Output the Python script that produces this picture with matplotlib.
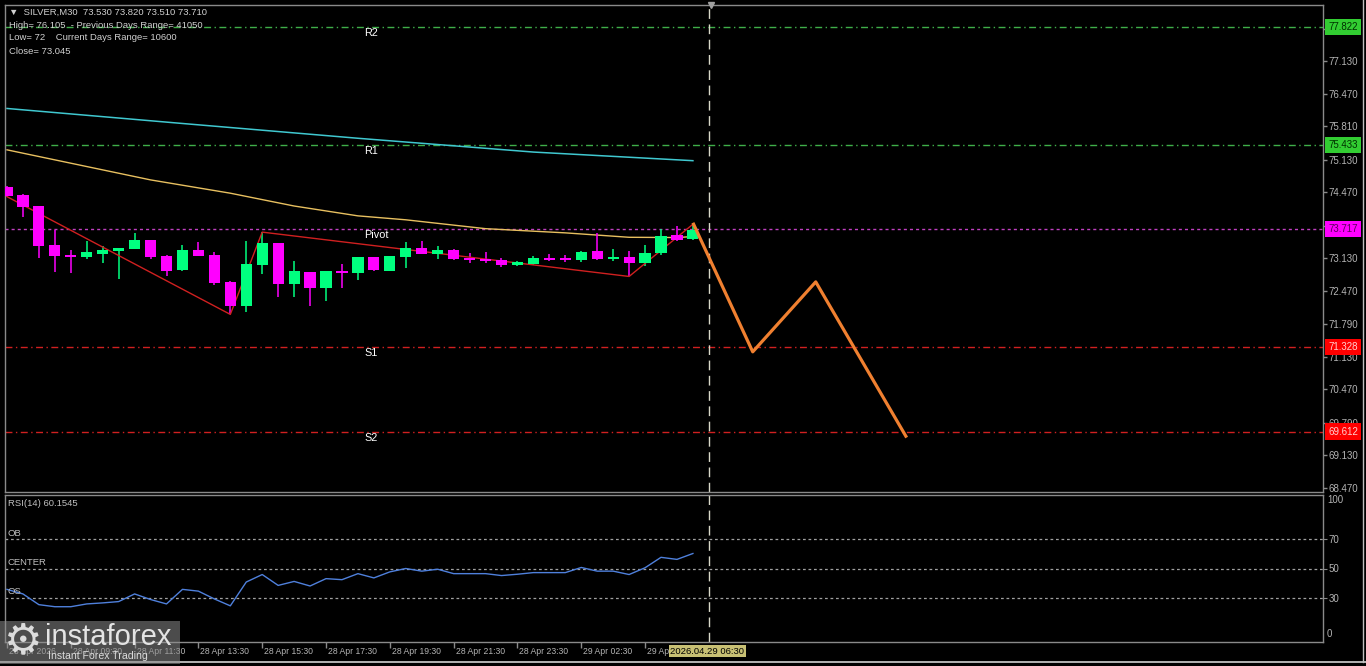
import matplotlib
matplotlib.use("Agg")
import matplotlib.pyplot as plt
import matplotlib.transforms as mtransforms
from matplotlib.patches import Rectangle
import numpy as np

# ---------------- data ----------------
opens  = [74.58, 74.41, 74.19, 73.40, 73.20, 73.15, 73.22, 73.28, 73.32, 73.50,
          73.18, 72.89, 73.30, 73.20, 72.65, 72.16, 73.00, 73.43, 72.61, 72.85,
          72.53, 72.88, 72.84, 73.15, 72.88, 73.16, 73.33, 73.22, 73.30, 73.13,
          73.11, 73.09, 73.00, 73.01, 73.13, 73.12, 73.09, 73.28, 73.12, 73.15,
          73.03, 73.23, 73.60, 73.53]
highs  = [74.60, 74.44, 74.20, 73.70, 73.30, 73.48, 73.38, 73.34, 73.65, 73.51,
          73.19, 73.40, 73.45, 73.26, 72.66, 73.47, 73.66, 73.44, 73.07, 72.86,
          72.88, 73.01, 73.16, 73.16, 73.18, 73.45, 73.47, 73.38, 73.31, 73.24,
          73.26, 73.14, 73.07, 73.17, 73.22, 73.19, 73.27, 73.64, 73.31, 73.28,
          73.40, 73.72, 73.78, 73.82]
lows   = [74.38, 73.96, 73.13, 72.86, 72.84, 73.12, 73.04, 72.70, 73.31, 73.11,
          72.77, 72.88, 73.17, 72.59, 71.99, 72.04, 72.81, 72.34, 72.35, 72.16,
          72.26, 72.53, 72.69, 72.88, 72.87, 72.93, 73.21, 73.11, 73.10, 73.04,
          73.04, 72.96, 72.97, 73.00, 73.08, 73.05, 73.05, 73.09, 73.07, 72.76,
          72.97, 73.20, 73.48, 73.51]
closes = [74.40, 74.17, 73.38, 73.18, 73.15, 73.25, 73.30, 73.33, 73.50, 73.16,
          72.88, 73.30, 73.18, 72.63, 72.16, 73.01, 73.43, 72.61, 72.87, 72.53,
          72.87, 72.84, 73.15, 72.89, 73.17, 73.33, 73.22, 73.30, 73.11, 73.09,
          73.08, 73.00, 73.05, 73.13, 73.10, 73.10, 73.26, 73.11, 73.15, 73.03,
          73.23, 73.58, 73.50, 73.71]

rsi_values = [35.8, 32.7, 25.4, 24.0, 24.0, 25.9, 26.6, 27.5, 32.7, 28.9,
              25.9, 35.8, 34.6, 29.3, 24.6, 40.8, 45.9, 38.5, 41.2, 38.1,
              43.1, 42.4, 46.5, 43.6, 47.7, 50.0, 48.2, 49.5, 46.5, 46.5,
              46.5, 45.2, 46.1, 47.2, 47.2, 47.2, 50.7, 48.2, 48.2, 45.9,
              50.5, 57.6, 56.2, 60.2]

ma_slow_idx = [0, 11, 22, 33, 43]
ma_slow_val = [76.17, 75.865, 75.565, 75.285, 75.11]
ma_fast_idx = [0, 9, 14, 18, 22, 25, 30, 35, 39, 42, 43]
ma_fast_val = [75.33, 74.72, 74.45, 74.19, 73.99, 73.91, 73.73, 73.645, 73.555, 73.55, 73.57]

zigzag_idx = [0, 14, 16, 39, 43]
zigzag_val = [74.38, 71.99, 73.66, 72.76, 73.82]

forecast_idx = [43, 46.75, 50.7, 56.4]
forecast_val = [73.85, 71.23, 72.65, 69.49]

level_names  = ["R2", "R1", "Pivot", "S1", "S2"]
level_values = [77.822, 75.433, 73.717, 71.328, 69.612]

price_ticks = [77.79, 77.13, 76.47, 75.81, 75.13, 74.47, 73.79, 73.13, 72.47,
               71.79, 71.13, 70.47, 69.79, 69.13, 68.47]
rsi_levels = [70, 50, 30]
rsi_level_names = ["OB", "CENTER", "OS"]

time_tick_idx = [0, 4, 8, 12, 16, 20, 24, 28, 32, 36, 40]
time_labels = ["28 Apr 2026", "28 Apr 09:30", "28 Apr 11:30", "28 Apr 13:30",
               "28 Apr 15:30", "28 Apr 17:30", "28 Apr 19:30", "28 Apr 21:30",
               "28 Apr 23:30", "29 Apr 02:30", "29 Apr 04:30"]
current_idx = 44
current_label = "2026.04.29 06:30"

header_lines = ["SILVER,M30  73.530 73.820 73.510 73.710",
                "High= 76.105  - Previous Days Range= 41050",
                "Low= 72    Current Days Range= 10600",
                "Close= 73.045"]
rsi_title = "RSI(14) 60.1545"

# ---------------- styles ----------------
W, H = 1366, 666
BULL = "#00ff7f"
BEAR = "#ff00ff"
GRID_TXT = "#b4b4b4"
FRAME = "#8a8a8a"
level_colors = ["#3fae49", "#3fae49", "#c040c0", "#d02020", "#d02020"]
level_styles = [(0, (5, 2.5, 1, 2.5)), (0, (5, 2.5, 1, 2.5)), (0, (2.2, 2.2)),
                (0, (5, 2.5, 1, 2.5)), (0, (5, 2.5, 1, 2.5))]
box_colors = ["#32cd32", "#32cd32", "#ff00ff", "#ff0000", "#ff0000"]
box_text = ["#003000", "#003000", "#5a005a", "#ffd0d0", "#ffd0d0"]

plt.rcParams['font.family'] = ['Liberation Sans', 'DejaVu Sans']

fig = plt.figure(figsize=(W / 100, H / 100), dpi=100, facecolor="black")

def px_rect(x0, y0, x1, y1):
    return [x0 / W, 1 - y1 / H, (x1 - x0) / W, (y1 - y0) / H]

ax = fig.add_axes(px_rect(5, 5, 1323, 492))
axr = fig.add_axes(px_rect(5, 495, 1323, 642))
for a in (ax, axr):
    a.set_facecolor("black")
    for s in a.spines.values():
        s.set_color(FRAME)
        s.set_linewidth(1)

x0_idx, x1_idx = -0.125, 82.5
ax.set_xlim(x0_idx, x1_idx)
axr.set_xlim(x0_idx, x1_idx)
ax.set_ylim(68.385, 78.27)
axr.set_ylim(0, 100)

# ---------------- candles ----------------
idx = np.arange(len(opens))
o = np.array(opens); c = np.array(closes); h = np.array(highs); l = np.array(lows)
cols = [BULL if cc >= oo else BEAR for oo, cc in zip(o, c)]
ax.vlines(idx, l, h, colors=cols, linewidth=1.1, zorder=3)
body_bottom = np.minimum(o, c)
body_h = np.maximum(np.abs(c - o), 0.035)
ax.bar(idx, body_h, bottom=body_bottom, width=0.70, color=cols, edgecolor=cols,
       linewidth=0, zorder=4)

# moving averages
ax.plot(ma_slow_idx, ma_slow_val, color="#40c8d0", lw=1.1, zorder=2)
ax.plot(ma_fast_idx, ma_fast_val, color="#e8c060", lw=1.0, zorder=2)

# zigzag
ax.plot(zigzag_idx, zigzag_val, color="#d02020", lw=1.0, zorder=3.5)

# levels
trans_lv = mtransforms.blended_transform_factory(ax.transAxes, ax.transData)
for name, val, col, ls, bc, tc in zip(level_names, level_values, level_colors,
                                      level_styles, box_colors, box_text):
    ax.axhline(val, color=col, lw=1.0, linestyle=ls, zorder=1)
    ax.annotate(name, xy=(22.4, val), xytext=(0, -6), textcoords="offset pixels",
                color="white", fontsize=7.8, va="center", ha="left", zorder=6)
    ax.text(1.0 + 5 / 1318, val, f"{val:.3f}", transform=trans_lv, fontsize=7.0,
            color=tc, va="center", ha="left", clip_on=False, zorder=10,
            bbox=dict(boxstyle="square,pad=0.32", facecolor=bc, edgecolor="none"))

# forecast path
ax.plot(forecast_idx, forecast_val, color="#f08030", lw=2.3, zorder=5,
        solid_capstyle="butt")

# current time line
for a in (ax, axr):
    a.axvline(current_idx, color="#d8d8c8", lw=1.0, linestyle=(0, (7, 4)), zorder=1)
ax.plot([current_idx + 0.15], [1.0], marker="v", color="#a0a0a0", markersize=4,
        transform=mtransforms.blended_transform_factory(ax.transData, ax.transAxes),
        clip_on=False, zorder=6)

# price axis
ax.yaxis.tick_right()
ax.set_yticks(price_ticks)
ax.set_yticklabels([f"{v:.3f}" for v in price_ticks])
ax.tick_params(axis="y", colors=FRAME, labelcolor=GRID_TXT, length=3, width=1,
               labelsize=7.0, pad=1)
ax.set_xticks([])

# header text
for k, line in enumerate(header_lines):
    txt = "\u25bc  " + line if k == 0 else line
    ax.text(4 / 1318, 1 - (7 + 13 * k) / 487, txt,
            transform=ax.transAxes, fontsize=6.8, color="#d0d0d0", va="center",
            ha="left", zorder=7)

# ---------------- RSI ----------------
axr.plot(idx, rsi_values, color="#4f80dc", lw=1.0, zorder=3)
for lv, nm in zip(rsi_levels, rsi_level_names):
    axr.axhline(lv, color="#a0a0a0", lw=0.9, linestyle=(0, (2.2, 2.2)), zorder=1)
    axr.annotate(nm, xy=(0, lv), xycoords=("axes fraction", "data"),
                 xytext=(2, 6), textcoords="offset pixels", fontsize=6.8,
                 color="#c0c0c0", va="center", ha="left")
axr.text(3 / 1318, 1 - 8 / 147, rsi_title, transform=axr.transAxes, fontsize=6.8,
         color="#c0c0c0", va="center", ha="left")
axr.yaxis.tick_right()
axr.set_yticks(rsi_levels)
axr.set_yticklabels([str(v) for v in rsi_levels])
axr.tick_params(axis="y", colors=FRAME, labelcolor=GRID_TXT, length=3, labelsize=7.0, pad=1)
rtrans = mtransforms.blended_transform_factory(axr.transAxes, axr.transData)
axr.text(1.0 + 4 / 1318, 100, "100", transform=rtrans, fontsize=7.0, color=GRID_TXT,
         va="top", ha="left", clip_on=False)
axr.text(1.0 + 4 / 1318, 2, "0", transform=rtrans, fontsize=7.0, color=GRID_TXT,
         va="bottom", ha="left", clip_on=False)

# time axis
axr.set_xticks(time_tick_idx)
axr.set_xticklabels([])
axr.tick_params(axis="x", colors=FRAME, length=4, width=1, direction="out")
ttrans = mtransforms.blended_transform_factory(axr.transData, axr.transAxes)
for ti, tl in zip(time_tick_idx, time_labels):
    axr.text(ti + 0.12, -9 / 147, tl, transform=ttrans, fontsize=6.2, color=GRID_TXT,
             va="center", ha="left", clip_on=False)
axr.text(current_idx - 0.1, -9 / 147, current_label, transform=ttrans, fontsize=6.8,
         color="black", va="center", ha="center", clip_on=False, zorder=10,
         bbox=dict(boxstyle="square,pad=0.15", facecolor="#c8c074", edgecolor="none"))

# window borders
fig.add_artist(plt.Line2D([0, 1], [1 - 662 / H, 1 - 662 / H], color="#d0d0d0",
                          lw=1.2, transform=fig.transFigure))
fig.add_artist(plt.Line2D([1363 / W, 1363 / W], [1 - 662 / H, 1], color="#c0c0c0",
                          lw=1.0, transform=fig.transFigure))

# logo overlay
fig.add_artist(Rectangle((0, 1 - 664 / H), 180 / W, 43 / H, transform=fig.transFigure,
                         facecolor="#8c8c8c", alpha=0.55, edgecolor="none", zorder=20))
fig.text(23 / W, 1 - 641 / H, "\u2699", fontsize=31, color="#dcdcdc", ha="center",
         va="center", zorder=21, family="DejaVu Sans")
fig.text(45 / W, 1 - 637 / H, "instaforex", fontsize=21, color="#e4e4e4", ha="left",
         va="center", zorder=21)
fig.text(48 / W, 1 - 656 / H, "Instant Forex Trading", fontsize=7.6, color="#dcdcdc",
         ha="left", va="center", zorder=21)

fig.savefig("out.png", dpi=100, facecolor="black")
